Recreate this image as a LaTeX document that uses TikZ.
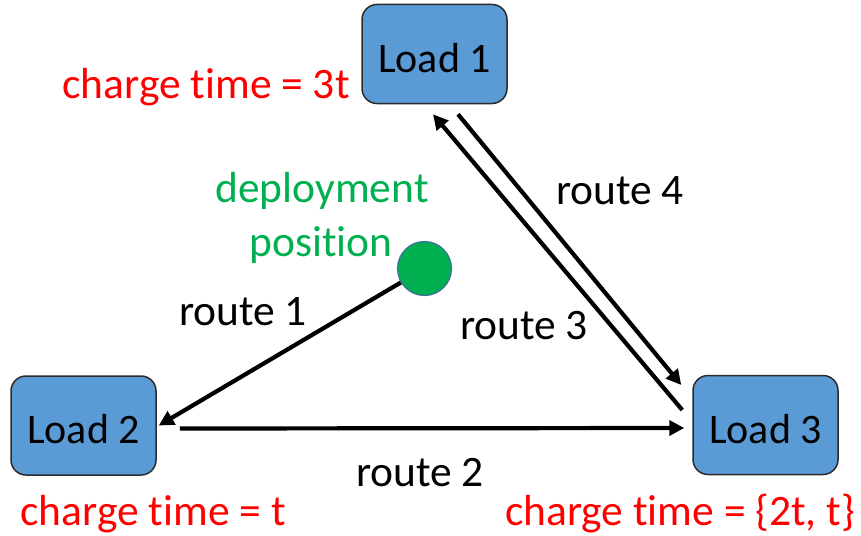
\documentclass[tikz,border=0pt]{standalone}
\usepackage{fontspec}
\setmainfont[Ligatures={NoCommon}]{Carlito}
\usetikzlibrary{arrows.meta,calc}
\definecolor{loadblue}{HTML}{5B9BD5}
\definecolor{loadedge}{HTML}{2B2B2B}
\definecolor{depgreen}{HTML}{00B050}
\definecolor{depedge}{HTML}{41719C}
\definecolor{chargered}{HTML}{FF0000}
\tikzset{
  loadbox/.style={draw=loadedge, line width=1.5pt, fill=loadblue, rounded corners=15pt,
    minimum width=145pt, minimum height=99pt, inner sep=0pt,
    text height=36pt, text depth=0pt,
    font=\fontsize{42}{50}\selectfont, text=black},
  label/.style={anchor=base, inner sep=0pt, font=\fontsize{43.5}{50}\selectfont},
  routelabel/.style={label, text=black},
  chargelabel/.style={label, text=chargered},
  deplabel/.style={label, text=depgreen},
  route/.style={line width=4.2pt, draw=black, -{Triangle[length=15pt,width=15pt]}}
}
\begin{document}
\begin{tikzpicture}[x=1pt,y=-1pt]
  \useasboundingbox (0,0) rectangle (861,535);

  % load boxes
  \node[loadbox] (L1) at (434.5,54) {Load 1};
  \node[loadbox] (L2) at (83.5,425.5) {Load 2};
  \node[loadbox] (L3) at (765.5,425) {Load 3};

  % deployment position
  \node[circle, fill=depgreen, draw=depedge, line width=1.2pt, minimum size=54pt, inner sep=0pt]
    (dep) at (424.5,268.5) {};

  % routes
  \coordinate (r3s) at ($(L3.west)+(-10,-15)$);
  \coordinate (r3e) at ($(L1.south)+(-1.5,10)$);
  \coordinate (r4s) at ($(L1.south)+(23.5,10)$);
  \coordinate (r4e) at ($(L3.west)+(-11,-40)$);
  \draw[route] (dep) -- ([xshift=2pt]L2.east);
  \draw[route] ([xshift=23pt,yshift=-3pt]L2.east) -- ([xshift=-8pt,yshift=-3pt]L3.west);
  \draw[route] (r3s) -- (r3e);
  \draw[route] (r4s) -- (r4e);

  % labels
  \node[chargelabel] (c1) at (206,98) {charge time = 3t};
  \node[chargelabel] (c2) at (153,525) {charge time = t};
  \node[chargelabel] (c3) at (680,525) {charge time = \{2t, t\}};
  \node[deplabel] (d1) at (322,202) {deployment};
  \node[deplabel] (d2) at (321,256) {position};
  \node[routelabel] (t1) at (243,325) {route 1};
  \node[routelabel] (t2) at (420,486) {route 2};
  \node[routelabel] (t3) at (524,339) {route 3};
  \node[routelabel] (t4) at (620,204) {route 4};
\end{tikzpicture}
\end{document}
